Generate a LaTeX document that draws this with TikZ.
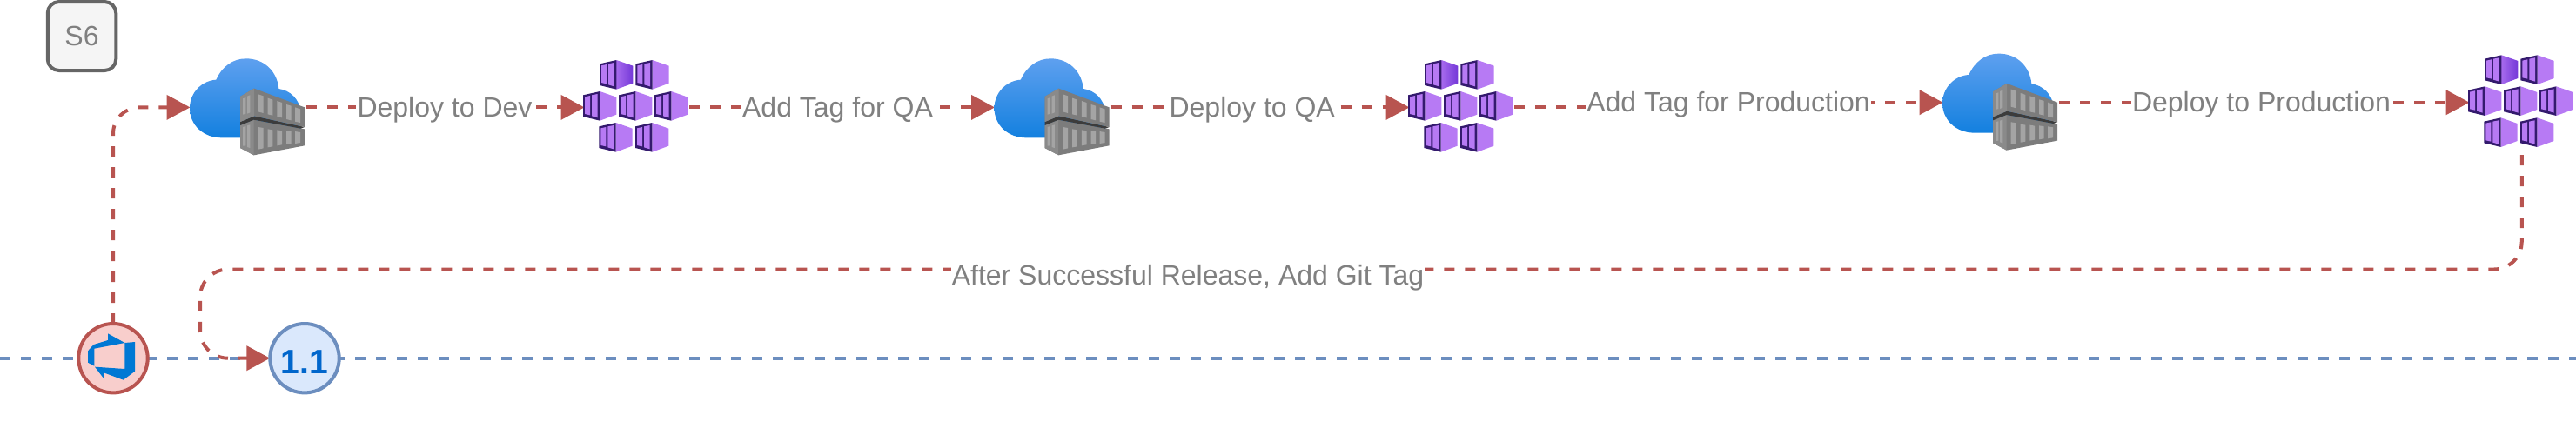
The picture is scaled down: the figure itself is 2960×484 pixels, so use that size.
\documentclass[tikz,border=0pt]{standalone}
\usepackage{fontspec}
\setmainfont{Liberation Sans}
\usetikzlibrary{arrows.meta,shapes.geometric}
\definecolor{flowred}{HTML}{B85450}
\definecolor{pinkfill}{HTML}{F8CECC}
\definecolor{flowblue}{HTML}{6C8EBF}
\definecolor{bluefill}{HTML}{DAE8FC}
\definecolor{labelgrey}{HTML}{808080}
\definecolor{boxline}{HTML}{666666}
\definecolor{boxfill}{HTML}{F5F5F5}
\definecolor{azure}{HTML}{0078D4}
\definecolor{cloudtop}{HTML}{5EA0EF}
\definecolor{cloudbot}{HTML}{1380DF}
\definecolor{frame}{HTML}{341A6E}
\definecolor{cube}{HTML}{B77AF4}
\definecolor{cubedark}{HTML}{7438D8}
\definecolor{cont}{HTML}{7C7C7C}
\definecolor{contlight}{HTML}{8A8A8A}
\definecolor{contwin}{HTML}{A4A4A4}
\definecolor{contdark}{HTML}{3C3C3C}
\definecolor{numblue}{HTML}{0066CC}
\pgfdeclarelayer{background}
\pgfsetlayers{background,main}
\tikzset{
  flow/.style={draw=flowred,line width=2pt,dash pattern=on 6pt off 6pt,
    -{Triangle[length=13.5pt,width=14pt,sep=0pt]},rounded corners=0pt},
  lane/.style={draw=flowblue,line width=2pt,dash pattern=on 6pt off 6pt},
  iconbox/.style={inner sep=0pt,outer sep=0pt,minimum height=60.5pt},
  cloudbox/.style={iconbox,minimum width=66.75pt},
  kubebox/.style={iconbox,minimum width=60.25pt},
  lab/.style={anchor=base,fill=white,inner sep=0.6pt,text=labelgrey,font=\fontsize{16}{19}\selectfont},
  badge/.style={circle,draw,line width=2pt,minimum size=39.7pt,inner sep=0pt,outer sep=0pt},
  icon/.style={x=0.16667pt,y=-0.16667pt},
  win/.style={fill=contwin},
}
\newcommand{\cloudicon}[2]{%
\begin{scope}[shift={(180+#1,40+#2)},icon]
  \path[top color=cloudtop,bottom color=cloudbot,shading angle=0]
    (225,355) .. controls (160,355) and (114,310) .. (114,253)
    .. controls (114,200) and (155,158) .. (205,155)
    .. controls (225,110) and (262,82) .. (308,82)
    .. controls (370,82) and (415,125) .. (421,186)
    .. controls (462,192) and (490,222) .. (497,262)
    -- (497,355) -- cycle;
  \fill[cont] (288,312) -- (335,293) -- (510,325) -- (510,382) -- (335,415) -- (288,390) -- cycle;
  \fill[contlight] (288,312) -- (335,293) -- (335,415) -- (288,390) -- cycle;
  \fill[contdark] (288,300) -- (336,280) -- (510,318) -- (497,323) -- (335,293) -- (288,312) -- cycle;
  \fill[cont] (288,213) -- (336,185) -- (510,250) -- (510,318) -- (336,280) -- (288,300) -- cycle;
  \fill[contlight] (288,213) -- (336,185) -- (336,280) -- (288,300) -- cycle;
  \fill[win] (297,220) -- (307,216) -- (307,272) -- (297,275) -- cycle;
  \fill[win] (312,212) -- (322,208) -- (322,268) -- (312,272) -- cycle;
  \fill[win] (350,205) -- (368,211) -- (368,270) -- (350,265) -- cycle;
  \fill[win] (383,218) -- (400,224) -- (400,278) -- (383,274) -- cycle;
  \fill[win] (415,228) -- (432,234) -- (432,286) -- (415,282) -- cycle;
  \fill[win] (447,240) -- (464,245) -- (464,295) -- (447,291) -- cycle;
  \fill[win] (477,250) -- (495,256) -- (495,303) -- (477,299) -- cycle;
  \fill[win] (297,318) -- (307,315) -- (307,382) -- (297,383) -- cycle;
  \fill[win] (312,313) -- (322,310) -- (322,390) -- (312,387) -- cycle;
  \fill[win] (350,318) -- (368,321) -- (368,391) -- (350,395) -- cycle;
  \fill[win] (383,325) -- (400,328) -- (400,385) -- (383,388) -- cycle;
  \fill[win] (415,328) -- (432,331) -- (432,379) -- (415,382) -- cycle;
  \fill[win] (447,330) -- (464,333) -- (464,375) -- (447,378) -- cycle;
  \fill[win] (477,333) -- (495,336) -- (495,372) -- (477,375) -- cycle;
\end{scope}}
\newcommand{\kubecell}[3]{%
\begin{scope}[shift={(#1,#2)}]
  \path[#3] (58,0) -- (115,20) -- (115,80) -- (58,101) -- cycle;
  \fill[frame] (0,13) -- (58,0) -- (58,101) -- (0,87) -- cycle;
  \fill[cube] (6,19) -- (24,15) -- (24,82) -- (6,78) -- cycle;
  \fill[cube] (30,13) -- (50,9) -- (50,91) -- (30,85) -- cycle;
\end{scope}}
\newcommand{\kubeicon}[2]{%
\begin{scope}[shift={(650+#1,50+#2)},icon]
  \kubecell{117}{57}{left color=cube!75!cubedark,right color=cubedark}
  \kubecell{241}{57}{fill=cube}
  \kubecell{60}{165}{fill=cube}
  \kubecell{183}{165}{fill=cube}
  \kubecell{306}{165}{fill=cube}
  \kubecell{115}{273}{fill=cube}
  \kubecell{240}{273}{fill=cube}
\end{scope}}
\begin{document}
\begin{tikzpicture}[x=0.5pt,y=-0.5pt]
\useasboundingbox (0,0) rectangle (2960,484);
% icon anchors
\node[cloudbox] (cloudA) at (285.25,123.4) {};
\node[kubebox]  (kubeA)  at (731.75,123.4) {};
\node[cloudbox] (cloudB) at (1209.75,123.4) {};
\node[kubebox]  (kubeB)  at (1679.75,123.4) {};
\node[cloudbox] (cloudC) at (2299.25,117.7) {};
\node[kubebox]  (kubeC)  at (2897.75,117.7) {};
\cloudicon{0}{0}
\kubeicon{0}{0}
\cloudicon{924.5}{0}
\kubeicon{948}{0}
\cloudicon{2014}{-5.7}
\kubeicon{2166}{-5.7}
% badges
\node[rectangle,rounded corners=6.5pt,draw=boxline,fill=boxfill,line width=2pt,minimum width=39.25pt,minimum height=39.5pt,inner sep=0pt,text=labelgrey,font=\fontsize{16}{19}\selectfont] (stage) at (94,41.5) {S6};
\node[badge,draw=flowred,fill=pinkfill] (pipeline) at (130,411.7) {};
\begin{scope}[shift={(60,290)},icon]
  \fill[azure] (192,280) -- (250,312) -- (285,309) -- (285,410) -- (245,440) -- (178,415) -- (180,438) -- (147,395) -- (250,402) -- (250,312) -- (145,332) -- (145,392) -- (123,380) -- (123,340) -- (143,318) -- (192,303) -- cycle;
\end{scope}
\node[badge,draw=flowblue,fill=bluefill,text=numblue,font=\fontsize{19.5}{22}\selectfont\bfseries] (release) at (350,411.7) {\raisebox{-9pt}[0pt][0pt]{1.1}};
% labels
\node[lab] (labA) at (511,134.5) {Deploy to Dev};
\node[lab] (labB) at (962.5,134.5) {Add Tag for QA};
\node[lab] (labC) at (1438.7,134.5) {Deploy to QA};
\node[lab] (labD) at (1986,128.5) {Add Tag for Production};
\node[lab] (labE) at (2598.5,128.5) {Deploy to Production};
\node[lab] (labF) at (1365,327) {After Successful Release, Add Git Tag};
\coordinate (laneL) at (0,412);
\coordinate (laneR) at (2960,412);
\coordinate (turn) at (230,309.5);
\begin{pgfonlayer}{background}
  \draw[lane] (laneL) -- (laneR);
  \draw[flow,rounded corners=15pt] (pipeline.north) |- (cloudA.west);
  \draw[flow] (cloudA.east) -- (kubeA.west);
  \draw[flow] (kubeA.east) -- (cloudB.west);
  \draw[flow] (cloudB.east) -- (kubeB.west);
  \draw[flow] (kubeB.east) -| (labD.center) |- (cloudC.west);
  \draw[flow] (cloudC.east) -- (kubeC.west);
  \draw[flow,rounded corners=16pt] (kubeC.south) |- (turn) |- (release.west);
\end{pgfonlayer}
\end{tikzpicture}
\end{document}
